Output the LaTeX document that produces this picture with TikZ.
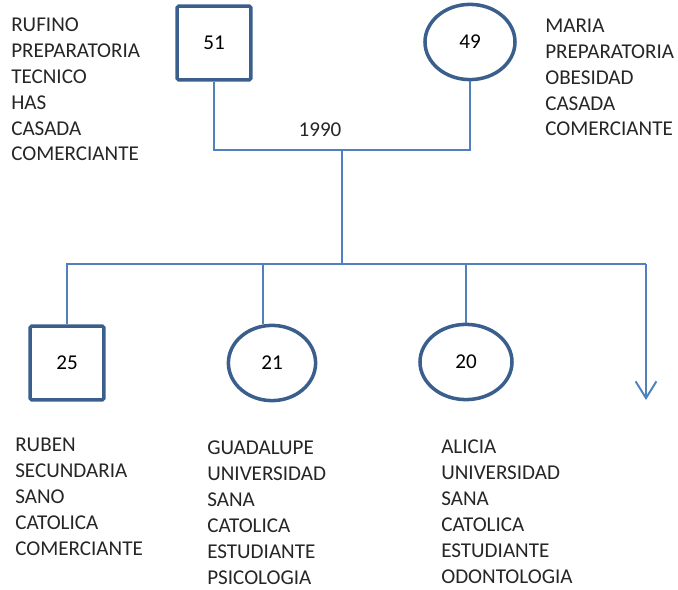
\documentclass[tikz,border=0pt]{standalone}
\usepackage{fontspec}
\setmainfont{Carlito}
\usepackage{xcolor}
\usetikzlibrary{shapes.geometric,arrows.meta,positioning}

\definecolor{borde}{RGB}{58,95,140}
\definecolor{linea}{RGB}{79,129,189}

\begin{document}
\begin{tikzpicture}[
    x=0.025cm, y=-0.025cm,
    hombre/.style={rectangle, rounded corners=1pt, draw=borde, line width=2.5pt, minimum size=1.84cm, inner sep=0pt, font=\fontsize{15}{18.4}\selectfont},
    mujer/.style={ellipse, draw=borde, line width=2.5pt, minimum width=2.25cm, minimum height=1.88cm, inner sep=0pt, font=\fontsize{15}{18.4}\selectfont},
    datos/.style={anchor=base west, inner sep=0pt, align=left, text=black!85, font=\fontsize{15}{18.4}\selectfont},
    link/.style={draw=linea, line width=1.4pt},
]
\useasboundingbox (0,0) rectangle (678,590);

% Padres (datos anclados en la linea base de la ultima fila)
\node[hombre] (padre) at (214,43) {51};
\node[mujer] (madre) at (470,42) {49};
\node[datos] (dpadre) at (11,161) {RUFINO\\PREPARATORIA\\TECNICO\\HAS\\CASADA\\COMERCIANTE};
\node[datos] (dmadre) at (545,136) {MARIA\\PREPARATORIA\\OBESIDAD\\CASADA\\COMERCIANTE};

% Hijos
\node[hombre] (ruben) at (67,363) {25};
\node[mujer, minimum width=2.18cm] (guadalupe) at (272,363) {21};
\node[mujer, minimum width=2.3cm] (alicia) at (466,362) {20};
\node[datos] (druben) at (15,555) {RUBEN\\SECUNDARIA\\SANO\\CATOLICA\\COMERCIANTE};
\node[datos] (dguadalupe) at (207,584) {GUADALUPE\\UNIVERSIDAD\\SANA\\CATOLICA\\ESTUDIANTE\\PSICOLOGIA};
\node[datos] (dalicia) at (441,583) {ALICIA\\UNIVERSIDAD\\SANA\\CATOLICA\\ESTUDIANTE\\ODONTOLOGIA};

% Union y lineas
\coordinate (union) at (342,150);
\coordinate (hijos) at (342,264);
\coordinate (fin) at (646,264);
\coordinate (flecha) at (646,400);
\coordinate (g) at (263,264);
\node[font=\fontsize{15}{18.4}\selectfont, text=black!85] (anio) at (320,130) {1990};

\draw[link] (padre.south) |- (union) -| (madre.south);
\draw[link] (union) -- (hijos);
\draw[link] (ruben.north) |- (fin);
\draw[link] (g) -- (g |- guadalupe.north);
\draw[link] (alicia.north) -- (alicia.north |- hijos);
\draw[link, -{Straight Barb[length=0.42cm, width=0.52cm]}] (fin) -- (flecha);

\end{tikzpicture}
\end{document}
